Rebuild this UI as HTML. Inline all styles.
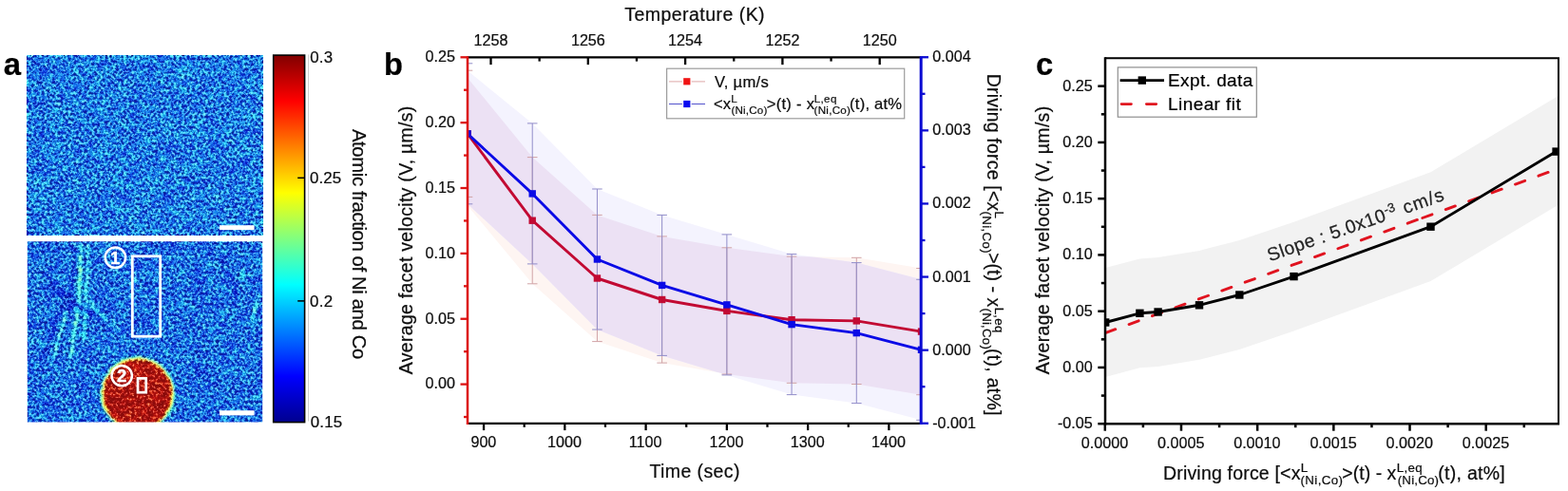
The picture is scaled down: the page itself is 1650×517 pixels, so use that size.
<!DOCTYPE html>
<html lang="en"><head><meta charset="utf-8"><title>Facet velocity and driving force</title>
<style>
html,body{margin:0;padding:0;background:#fff;}
body{width:1650px;height:517px;overflow:hidden;}
svg{display:block;}
text{font-family:"Liberation Sans", Arial, Helvetica, sans-serif;fill:#0d0d0d;stroke:#0d0d0d;stroke-width:0.22px;}
</style></head><body>
<svg width="1650" height="517" viewBox="0 0 1650 517">
<defs>
<filter id="jet" x="0" y="0" width="100%" height="100%" filterUnits="objectBoundingBox" color-interpolation-filters="sRGB">
<feTurbulence type="fractalNoise" baseFrequency="0.36" numOctaves="3" seed="7" result="t"/>
<feColorMatrix in="t" type="matrix" values="1 0 0 0 0  1 0 0 0 0  1 0 0 0 0  0 0 0 0 1" result="n"/>
<feTurbulence type="fractalNoise" baseFrequency="0.06" numOctaves="2" seed="11" result="t2"/>
<feColorMatrix in="t2" type="matrix" values="1 0 0 0 0  1 0 0 0 0  1 0 0 0 0  0 0 0 0 1" result="n2"/>
<feColorMatrix in="SourceGraphic" type="matrix" values="0.917 0 0 0 0.1371  0.917 0 0 0 0.1371  0.917 0 0 0 0.1371  0 0 0 0 1" result="sv"/>
<feComposite in="sv" in2="n2" operator="arithmetic" k1="0" k2="1" k3="0.1" k4="-0.05" result="s2"/>
<feComposite in="s2" in2="n" operator="arithmetic" k1="0" k2="1" k3="0.78" k4="-0.39" result="v"/>
<feComponentTransfer in="v" result="c">
<feFuncR type="table" tableValues="0 0 0 0 .5 1 1 1 .5"/>
<feFuncG type="table" tableValues="0 0 .5 1 1 1 .5 0 0"/>
<feFuncB type="table" tableValues=".5 1 1 1 .5 0 0 0 0"/>
<feFuncA type="linear" slope="0" intercept="1"/>
</feComponentTransfer>
<feGaussianBlur in="c" stdDeviation="0.55" result="c1"/>
<feGaussianBlur in="c" stdDeviation="1.7" result="cb"/>
<feColorMatrix in="c1" type="matrix" values=".3 .59 .11 0 0  .3 .59 .11 0 0  .3 .59 .11 0 0  0 0 0 0 1" result="l1"/>
<feColorMatrix in="cb" type="matrix" values=".3 .59 .11 0 0  .3 .59 .11 0 0  .3 .59 .11 0 0  0 0 0 0 1" result="lb"/>
<feComposite in="l1" in2="lb" operator="arithmetic" k1="0" k2="1" k3="-1" k4="0.5" result="d"/>
<feComposite in="cb" in2="d" operator="arithmetic" k1="0" k2="1" k3="1" k4="-0.5" result="o"/>
<feColorMatrix in="o" type="matrix" values="0.902 0.083 0.015 0 0.02  0.042 0.943 0.015 0 0.02  0.042 0.083 0.875 0 0.02  0 0 0 0 1"/>
</filter>
<filter id="soft" x="-20%" y="-20%" width="140%" height="140%" color-interpolation-filters="sRGB"><feGaussianBlur stdDeviation="1.25"/></filter>
<filter id="soft2" x="-20%" y="-20%" width="140%" height="140%" color-interpolation-filters="sRGB"><feGaussianBlur stdDeviation="0.8"/></filter>
<linearGradient id="cbar" x1="0" y1="1" x2="0" y2="0">
<stop offset="0" stop-color="#00008f"/>
<stop offset="0.125" stop-color="#0000ff"/>
<stop offset="0.25" stop-color="#0080ff"/>
<stop offset="0.375" stop-color="#00ffff"/>
<stop offset="0.5" stop-color="#80ff80"/>
<stop offset="0.625" stop-color="#ffff00"/>
<stop offset="0.75" stop-color="#ff8000"/>
<stop offset="0.875" stop-color="#ff0000"/>
<stop offset="1" stop-color="#800000"/>
</linearGradient>
<clipPath id="clipA2"><rect x="28.8" y="254.3" width="247.4" height="190.3"/></clipPath>
<clipPath id="clipB"><rect x="492" y="60.3" width="477.5" height="385.5"/></clipPath>
<clipPath id="clipC"><rect x="1162.8" y="61.2" width="477.2" height="385"/></clipPath>
</defs>
<rect x="0" y="0" width="1650" height="517" fill="#fff"/>
<g id="panel-a">
<text x="3.66" y="79.1" style="font-size:32.8px;font-weight:bold;fill:#000;stroke:#000">a</text>
<g filter="url(#jet)"><rect x="28.8" y="58.3" width="247.4" height="189.7" fill="rgb(29,119,255)"/></g>
<g clip-path="url(#clipA2)"><g filter="url(#jet)">
<rect x="28.8" y="254.3" width="247.4" height="190.3" fill="rgb(25,110,255)"/>
<g filter="url(#soft2)" fill="none" stroke-linecap="round">
<path d="M85.3 257 L84.4 285 L83 312 L80 340 L74.5 377" stroke="rgb(112,255,160)" stroke-width="2.1"/>
<path d="M84.6 282 L84 302" stroke="rgb(170,255,90)" stroke-width="1.6"/>
<path d="M92.9 257 L91.6 290 L89.3 335 L88 360" stroke="rgb(96,255,190)" stroke-width="2"/>
<path d="M79.3 262 L76.8 300 L70.5 326" stroke="rgb(0,0,200)" stroke-width="2.6"/>
<path d="M70.3 328 L62.7 353 L56 378" stroke="rgb(92,255,200)" stroke-width="2"/>
<path d="M40 284 L57.7 302 L75.3 317.4 L100.4 332.5 L118 340" stroke="rgb(0,0,200)" stroke-width="3"/>
<path d="M67.7 315 L55.2 347.5 L46 374" stroke="rgb(0,0,210)" stroke-width="2.6"/>
<path d="M96 322 L110 336 L124 347" stroke="rgb(80,255,220)" stroke-width="1.8"/>
<path d="M258 282 L243 317.4 L235.4 333" stroke="rgb(92,255,200)" stroke-width="1.8"/>
<path d="M251 296 L241 326" stroke="rgb(0,0,210)" stroke-width="2.4"/>
<path d="M270.6 312 L265.6 340" stroke="rgb(92,255,200)" stroke-width="1.8"/>
</g>
<g filter="url(#soft)" transform="translate(-0.9 0.6)"><path d="M145.6 374.6 L160 377.5 L174 387 L182.6 400 L185 414 L182 429 L174 441 L163 449 L128 449 L117 441 L109 429 L106.6 414 L109 400 L117.5 387 L131 377.5 Z" fill="rgb(125,255,37)"/><path d="M145.6 377.8 L159 380.5 L172 389.5 L179.6 401.5 L181.8 414 L179 428 L172 439 L162 447 L129 447 L119 439 L112 428 L109.6 414 L112 401.5 L119.5 389.5 L132 380.5 Z" fill="rgb(224,24,0)"/></g>
</g></g>
<rect x="231" y="237.2" width="36.6" height="4.9" fill="#fff"/>
<rect x="231" y="432.2" width="36.6" height="5.2" fill="#fff"/>
<rect x="139.3" y="269.8" width="29.4" height="84.4" fill="none" stroke="#fff" stroke-width="2.8"/>
<rect x="145.0" y="398.4" width="8.7" height="14.8" fill="none" stroke="#fff" stroke-width="2.7"/>
<circle cx="121.4" cy="271.3" r="10.7" fill="none" stroke="#fff" stroke-width="2.5"/>
<text x="121.2" y="277.8" text-anchor="middle" style="font-size:18.5px;font-weight:bold;fill:#fff;stroke:#fff;stroke-width:0.4px">1</text>
<circle cx="128.2" cy="395.6" r="10.7" fill="none" stroke="#fff" stroke-width="2.5"/>
<text x="128.2" y="402.1" text-anchor="middle" style="font-size:18.5px;font-weight:bold;fill:#fff;stroke:#fff;stroke-width:0.4px">2</text>
<rect x="287.7" y="58.1" width="32.9" height="386.5" fill="url(#cbar)" stroke="#000" stroke-width="1.6"/>
<line x1="324.5" y1="57.5" x2="324.5" y2="443.5" stroke="#c9c9c9" stroke-width="0.9"/>
<line x1="313.2" y1="187.3" x2="321" y2="187.3" stroke="#000" stroke-width="1.5"/>
<line x1="313.2" y1="316.9" x2="321" y2="316.9" stroke="#000" stroke-width="1.5"/>
<text x="326.18" y="65.9" style="font-size:16.9px;letter-spacing:0.22px">0.3</text>
<text x="326.07" y="192.7" style="font-size:16.9px;letter-spacing:0.03px">0.25</text>
<text x="326.07" y="322.6" style="font-size:16.9px;letter-spacing:0.3px">0.2</text>
<text x="326.68" y="449.7" style="font-size:16.9px;letter-spacing:0.23px">0.15</text>
<g transform="translate(371 0) rotate(90)"><text x="135.94" y="0" style="font-size:20.3px;letter-spacing:-0.38px">Atomic fraction of Ni and Co</text></g>
</g>
<g id="panel-b">
<text x="403.88" y="79.3" style="font-size:32.6px;font-weight:bold;fill:#000;stroke:#000">b</text>
<g clip-path="url(#clipB)">
<clipPath id="redband"><polygon points="492,82 560.21,165.6 628.43,226.4 696.64,248.9 764.86,260.8 833.07,270.1 901.29,271.3 969.5,282.5 969.5,415.7 901.29,404.5 833.07,403.3 764.86,394 696.64,382.1 628.43,359.6 560.21,298.8 492,216.5"/></clipPath>
<polygon points="492,82 560.21,165.6 628.43,226.4 696.64,248.9 764.86,260.8 833.07,270.1 901.29,271.3 969.5,282.5 969.5,415.7 901.29,404.5 833.07,403.3 764.86,394 696.64,382.1 628.43,359.6 560.21,298.8 492,216.5" fill="#fef5f2"/>
<polygon points="492,74.4 560.21,129.9 628.43,199 696.64,226.4 764.86,246.9 833.07,267.6 901.29,276.6 969.5,294.3 969.5,442.3 901.29,424.6 833.07,415.6 764.86,394.9 696.64,374.4 628.43,347 560.21,277.9 492,214.8" fill="#f4f3fe"/>
<g clip-path="url(#redband)"><polygon points="492,74.4 560.21,129.9 628.43,199 696.64,226.4 764.86,246.9 833.07,267.6 901.29,276.6 969.5,294.3 969.5,442.3 901.29,424.6 833.07,415.6 764.86,394.9 696.64,374.4 628.43,347 560.21,277.9 492,214.8" fill="#ece1f4"/></g>
<path d="M492 74.2 V207.4 M486.7 74.2 H497.3 M486.7 207.4 H497.3" fill="none" stroke="#d1a3a6" stroke-width="1"/>
<path d="M492 66.8 V214.8 M486.7 66.8 H497.3 M486.7 214.8 H497.3" fill="none" stroke="#918dc9" stroke-width="1"/>
<path d="M560.21 165.6 V298.8 M554.91 165.6 H565.51 M554.91 298.8 H565.51" fill="none" stroke="#d1a3a6" stroke-width="1"/>
<path d="M560.21 129.9 V277.9 M554.91 129.9 H565.51 M554.91 277.9 H565.51" fill="none" stroke="#918dc9" stroke-width="1"/>
<path d="M628.43 226.4 V359.6 M623.13 226.4 H633.73 M623.13 359.6 H633.73" fill="none" stroke="#d1a3a6" stroke-width="1"/>
<path d="M628.43 199 V347 M623.13 199 H633.73 M623.13 347 H633.73" fill="none" stroke="#918dc9" stroke-width="1"/>
<path d="M696.64 248.9 V382.1 M691.34 248.9 H701.94 M691.34 382.1 H701.94" fill="none" stroke="#d1a3a6" stroke-width="1"/>
<path d="M696.64 226.4 V374.4 M691.34 226.4 H701.94 M691.34 374.4 H701.94" fill="none" stroke="#918dc9" stroke-width="1"/>
<path d="M764.86 260.8 V394 M759.56 260.8 H770.16 M759.56 394 H770.16" fill="none" stroke="#d1a3a6" stroke-width="1"/>
<path d="M764.86 246.9 V394.9 M759.56 246.9 H770.16 M759.56 394.9 H770.16" fill="none" stroke="#918dc9" stroke-width="1"/>
<path d="M833.07 270.1 V403.3 M827.77 270.1 H838.37 M827.77 403.3 H838.37" fill="none" stroke="#d1a3a6" stroke-width="1"/>
<path d="M833.07 267.6 V415.6 M827.77 267.6 H838.37 M827.77 415.6 H838.37" fill="none" stroke="#918dc9" stroke-width="1"/>
<path d="M901.29 271.3 V404.5 M895.99 271.3 H906.59 M895.99 404.5 H906.59" fill="none" stroke="#d1a3a6" stroke-width="1"/>
<path d="M901.29 276.6 V424.6 M895.99 276.6 H906.59 M895.99 424.6 H906.59" fill="none" stroke="#918dc9" stroke-width="1"/>
<path d="M969.5 282.5 V415.7 M964.2 282.5 H974.8 M964.2 415.7 H974.8" fill="none" stroke="#d1a3a6" stroke-width="1"/>
<path d="M969.5 294.3 V442.3 M964.2 294.3 H974.8 M964.2 442.3 H974.8" fill="none" stroke="#918dc9" stroke-width="1"/>
<polyline points="492,140.8 560.21,232.2 628.43,293 696.64,315.5 764.86,327.4 833.07,336.7 901.29,337.9 969.5,349.1" fill="none" stroke="#c20a33" stroke-width="2.9" stroke-linejoin="round"/>
<polyline points="492,140.8 560.21,203.9 628.43,273 696.64,300.4 764.86,320.9 833.07,341.6 901.29,350.6 969.5,368.3" fill="none" stroke="#0a0ae6" stroke-width="2.9" stroke-linejoin="round"/>
<rect x="488.3" y="137.1" width="7.4" height="7.4" fill="#c20a33"/>
<rect x="556.51" y="228.5" width="7.4" height="7.4" fill="#c20a33"/>
<rect x="624.73" y="289.3" width="7.4" height="7.4" fill="#c20a33"/>
<rect x="692.94" y="311.8" width="7.4" height="7.4" fill="#c20a33"/>
<rect x="761.16" y="323.7" width="7.4" height="7.4" fill="#c20a33"/>
<rect x="829.37" y="333" width="7.4" height="7.4" fill="#c20a33"/>
<rect x="897.59" y="334.2" width="7.4" height="7.4" fill="#c20a33"/>
<rect x="965.8" y="345.4" width="7.4" height="7.4" fill="#c20a33"/>
<rect x="488.3" y="137.1" width="7.4" height="7.4" fill="#0a0ae6"/>
<rect x="556.51" y="200.2" width="7.4" height="7.4" fill="#0a0ae6"/>
<rect x="624.73" y="269.3" width="7.4" height="7.4" fill="#0a0ae6"/>
<rect x="692.94" y="296.7" width="7.4" height="7.4" fill="#0a0ae6"/>
<rect x="761.16" y="317.2" width="7.4" height="7.4" fill="#0a0ae6"/>
<rect x="829.37" y="337.9" width="7.4" height="7.4" fill="#0a0ae6"/>
<rect x="897.59" y="346.9" width="7.4" height="7.4" fill="#0a0ae6"/>
<rect x="965.8" y="364.6" width="7.4" height="7.4" fill="#0a0ae6"/>
</g>
<g stroke="#000" stroke-width="2.3" fill="none">
<line x1="492" y1="445.8" x2="969.5" y2="445.8"/>
<line x1="492" y1="60.3" x2="969.5" y2="60.3"/>
<line x1="509.05" y1="445.8" x2="509.05" y2="453.1"/>
<line x1="551.69" y1="445.8" x2="551.69" y2="449.8"/>
<line x1="594.32" y1="445.8" x2="594.32" y2="453.1"/>
<line x1="636.96" y1="445.8" x2="636.96" y2="449.8"/>
<line x1="679.59" y1="445.8" x2="679.59" y2="453.1"/>
<line x1="722.22" y1="445.8" x2="722.22" y2="449.8"/>
<line x1="764.86" y1="445.8" x2="764.86" y2="453.1"/>
<line x1="807.49" y1="445.8" x2="807.49" y2="449.8"/>
<line x1="850.12" y1="445.8" x2="850.12" y2="453.1"/>
<line x1="892.76" y1="445.8" x2="892.76" y2="449.8"/>
<line x1="935.39" y1="445.8" x2="935.39" y2="453.1"/>
<line x1="516.5" y1="60.3" x2="516.5" y2="68.1"/>
<line x1="567.65" y1="60.3" x2="567.65" y2="64.6"/>
<line x1="618.8" y1="60.3" x2="618.8" y2="68.1"/>
<line x1="669.95" y1="60.3" x2="669.95" y2="64.6"/>
<line x1="721.1" y1="60.3" x2="721.1" y2="68.1"/>
<line x1="772.25" y1="60.3" x2="772.25" y2="64.6"/>
<line x1="823.4" y1="60.3" x2="823.4" y2="68.1"/>
<line x1="874.55" y1="60.3" x2="874.55" y2="64.6"/>
<line x1="925.7" y1="60.3" x2="925.7" y2="68.1"/>
</g>
<g stroke="#dc1212" stroke-width="2.3" fill="none">
<line x1="492" y1="59.15" x2="492" y2="446.95" stroke-width="2.5"/>
<line x1="488" y1="439.03" x2="492" y2="439.03"/>
<line x1="484.5" y1="404.6" x2="492" y2="404.6"/>
<line x1="488" y1="370.17" x2="492" y2="370.17"/>
<line x1="484.5" y1="335.74" x2="492" y2="335.74"/>
<line x1="488" y1="301.31" x2="492" y2="301.31"/>
<line x1="484.5" y1="266.88" x2="492" y2="266.88"/>
<line x1="488" y1="232.45" x2="492" y2="232.45"/>
<line x1="484.5" y1="198.02" x2="492" y2="198.02"/>
<line x1="488" y1="163.59" x2="492" y2="163.59"/>
<line x1="484.5" y1="129.16" x2="492" y2="129.16"/>
<line x1="488" y1="94.73" x2="492" y2="94.73"/>
<line x1="484.5" y1="60.3" x2="492" y2="60.3"/>
</g>
<g stroke="#0a0ad2" stroke-width="2.3" fill="none">
<line x1="969.2" y1="59.15" x2="969.2" y2="446.95" stroke-width="3"/>
<line x1="969.5" y1="445.75" x2="977" y2="445.75"/>
<line x1="969.5" y1="407.2" x2="973.5" y2="407.2"/>
<line x1="969.5" y1="368.65" x2="977" y2="368.65"/>
<line x1="969.5" y1="330.1" x2="973.5" y2="330.1"/>
<line x1="969.5" y1="291.55" x2="977" y2="291.55"/>
<line x1="969.5" y1="253" x2="973.5" y2="253"/>
<line x1="969.5" y1="214.45" x2="977" y2="214.45"/>
<line x1="969.5" y1="175.9" x2="973.5" y2="175.9"/>
<line x1="969.5" y1="137.35" x2="977" y2="137.35"/>
<line x1="969.5" y1="98.8" x2="973.5" y2="98.8"/>
<line x1="969.5" y1="60.25" x2="977" y2="60.25"/>
</g>
<text x="447.49" y="409.4" style="font-size:16.15px">0.00</text>
<text x="447.55" y="340.54" style="font-size:16.15px">0.05</text>
<text x="447.49" y="271.68" style="font-size:16.15px">0.10</text>
<text x="447.55" y="202.82" style="font-size:16.15px">0.15</text>
<text x="447.49" y="133.96" style="font-size:16.15px">0.20</text>
<text x="447.55" y="65.1" style="font-size:16.15px">0.25</text>
<text x="981.21" y="450.75" style="font-size:16.15px">-0.001</text>
<text x="981.27" y="373.65" style="font-size:16.15px">0.000</text>
<text x="981.27" y="296.55" style="font-size:16.15px">0.001</text>
<text x="981.27" y="219.45" style="font-size:16.15px">0.002</text>
<text x="981.27" y="142.35" style="font-size:16.15px">0.003</text>
<text x="981.27" y="65.25" style="font-size:16.15px">0.004</text>
<text x="495.42" y="471" style="font-size:16.15px">900</text>
<text x="575.97" y="471" style="font-size:16.15px">1000</text>
<text x="661.83" y="471" style="font-size:16.15px">1100</text>
<text x="746.51" y="471" style="font-size:16.15px">1200</text>
<text x="831.77" y="471" style="font-size:16.15px">1300</text>
<text x="917.04" y="471" style="font-size:16.15px">1400</text>
<text x="498.61" y="47.6" style="font-size:16.15px">1258</text>
<text x="600.91" y="47.6" style="font-size:16.15px">1256</text>
<text x="703.09" y="47.6" style="font-size:16.15px">1254</text>
<text x="805.54" y="47.6" style="font-size:16.15px">1252</text>
<text x="907.75" y="47.6" style="font-size:16.15px">1250</text>
<text x="657.16" y="21.7" style="font-size:19.5px;letter-spacing:0.47px">Temperature (K)</text>
<text x="683.46" y="502.8" style="font-size:19.5px;letter-spacing:0.41px">Time (sec)</text>
<g transform="translate(433.8 0) rotate(-90)"><text x="-394.16" y="0" style="font-size:19.5px;letter-spacing:0.29px">Average facet velocity (V, µm/s)</text></g>
<g transform="translate(1039.3 79.3) rotate(90)"><text x="-1.56" y="0" style="font-size:19.5px;letter-spacing:0.19px">Driving force [&lt;x</text><text x="143.24" y="-8" style="font-size:13.3px">L</text><text x="143.09" y="5.7" style="font-size:13.3px;letter-spacing:0.36px">(Ni,Co)</text><text x="186.86" y="0" style="font-size:19.5px;letter-spacing:0.02px">&gt;(t) - x</text><text x="244.34" y="-8" style="font-size:13.3px;letter-spacing:0.3px">L,eq</text><text x="245.19" y="5.7" style="font-size:13.3px;letter-spacing:0.21px">(Ni,Co)</text><text x="287.81" y="0" style="font-size:19.5px;letter-spacing:0.27px">(t), at%]</text></g>
<rect x="701.6" y="72.2" width="250.1" height="52.6" fill="#fff" stroke="#9c9c9c" stroke-width="1.2"/>
<line x1="704" y1="85.8" x2="742" y2="85.8" stroke="#e4b9b9" stroke-width="1.2"/>
<rect x="717.9" y="81.2" width="9.8" height="9.2" fill="#fff"/>
<rect x="719.2" y="82.2" width="7.2" height="7.2" fill="#f01414"/>
<line x1="704" y1="109.5" x2="742" y2="109.5" stroke="#5252cc" stroke-width="1.2"/>
<rect x="717.9" y="104.9" width="9.8" height="9.2" fill="#fff"/>
<rect x="719.2" y="105.9" width="7.2" height="7.2" fill="#0a0af0"/>
<text x="751.94" y="91.9" style="font-size:16.6px;letter-spacing:0.3px">V, µm/s</text>
<g transform="translate(0 0)"><text x="751.09" y="115" style="font-size:16.6px">&lt;x</text><text x="769.16" y="107.6" style="font-size:11.6px">L</text><text x="769.41" y="119.8" style="font-size:11.6px;letter-spacing:0.21px">(Ni,Co)</text><text x="806.69" y="115" style="font-size:16.6px;letter-spacing:0.27px">&gt;(t) - x</text><text x="856.66" y="107.6" style="font-size:11.6px;letter-spacing:0.37px">L,eq</text><text x="856.61" y="119.8" style="font-size:11.6px;letter-spacing:0.26px">(Ni,Co)</text><text x="894.1" y="115" style="font-size:16.6px;letter-spacing:0.21px">(t), at%</text></g>
</g>
<g id="panel-c">
<text x="1090.05" y="79.3" style="font-size:32.8px;font-weight:bold;fill:#000;stroke:#000">c</text>
<g clip-path="url(#clipC)">
<polygon points="1163.2,282.1 1199.4,272.4 1218.6,271.1 1262,263.9 1304.3,253.1 1361.5,233.7 1505.5,181.3 1637.6,102.2 1640,100.76 1640,215.56 1637.6,217 1505.5,296.1 1361.5,348.5 1304.3,367.9 1262,378.7 1218.6,385.9 1199.4,387.2 1163.2,396.9" fill="#f2f2f2"/>
<line x1="1163.6" y1="350.41" x2="1492" y2="231.23" stroke="#e0131f" stroke-width="2.9" stroke-dasharray="10.8 15.19" stroke-linecap="round"/>
<line x1="1496.8" y1="229.49" x2="1630" y2="181.15" stroke="#e0131f" stroke-width="2.9" stroke-dasharray="10.8 15.19" stroke-linecap="round"/>
<polyline points="1163.2,339.5 1199.4,329.8 1218.6,328.5 1262,321.3 1304.3,310.5 1361.5,291.1 1505.5,238.7 1637.6,159.6" fill="none" stroke="#000" stroke-width="2.9" stroke-linejoin="round"/>
<rect x="1159" y="335.3" width="8.4" height="8.4" fill="#000"/>
<rect x="1195.2" y="325.6" width="8.4" height="8.4" fill="#000"/>
<rect x="1214.4" y="324.3" width="8.4" height="8.4" fill="#000"/>
<rect x="1257.8" y="317.1" width="8.4" height="8.4" fill="#000"/>
<rect x="1300.1" y="306.3" width="8.4" height="8.4" fill="#000"/>
<rect x="1357.3" y="286.9" width="8.4" height="8.4" fill="#000"/>
<rect x="1501.3" y="234.5" width="8.4" height="8.4" fill="#000"/>
<rect x="1633.4" y="155.4" width="8.4" height="8.4" fill="#000"/>
</g>
<g stroke="#000" fill="none">
<line x1="1163" y1="60.2" x2="1163" y2="447.5" stroke-width="2.5"/>
<line x1="1162.8" y1="446.2" x2="1641" y2="446.2" stroke-width="2.5"/>
<line x1="1162.8" y1="61.2" x2="1641" y2="61.2" stroke-width="2"/>
<line x1="1640" y1="61.2" x2="1640" y2="446.2" stroke-width="2"/>
<line x1="1155.3" y1="446.2" x2="1162.8" y2="446.2" stroke-width="2.5"/>
<line x1="1158.8" y1="416.57" x2="1162.8" y2="416.57" stroke-width="2.5"/>
<line x1="1155.3" y1="386.94" x2="1162.8" y2="386.94" stroke-width="2.5"/>
<line x1="1158.8" y1="357.32" x2="1162.8" y2="357.32" stroke-width="2.5"/>
<line x1="1155.3" y1="327.69" x2="1162.8" y2="327.69" stroke-width="2.5"/>
<line x1="1158.8" y1="298.06" x2="1162.8" y2="298.06" stroke-width="2.5"/>
<line x1="1155.3" y1="268.43" x2="1162.8" y2="268.43" stroke-width="2.5"/>
<line x1="1158.8" y1="238.81" x2="1162.8" y2="238.81" stroke-width="2.5"/>
<line x1="1155.3" y1="209.18" x2="1162.8" y2="209.18" stroke-width="2.5"/>
<line x1="1158.8" y1="179.55" x2="1162.8" y2="179.55" stroke-width="2.5"/>
<line x1="1155.3" y1="149.93" x2="1162.8" y2="149.93" stroke-width="2.5"/>
<line x1="1158.8" y1="120.3" x2="1162.8" y2="120.3" stroke-width="2.5"/>
<line x1="1155.3" y1="90.67" x2="1162.8" y2="90.67" stroke-width="2.5"/>
<line x1="1162.8" y1="446.2" x2="1162.8" y2="453.7" stroke-width="2.5"/>
<line x1="1202.89" y1="446.2" x2="1202.89" y2="450.2" stroke-width="2.5"/>
<line x1="1242.98" y1="446.2" x2="1242.98" y2="453.7" stroke-width="2.5"/>
<line x1="1283.07" y1="446.2" x2="1283.07" y2="450.2" stroke-width="2.5"/>
<line x1="1323.16" y1="446.2" x2="1323.16" y2="453.7" stroke-width="2.5"/>
<line x1="1363.25" y1="446.2" x2="1363.25" y2="450.2" stroke-width="2.5"/>
<line x1="1403.34" y1="446.2" x2="1403.34" y2="453.7" stroke-width="2.5"/>
<line x1="1443.43" y1="446.2" x2="1443.43" y2="450.2" stroke-width="2.5"/>
<line x1="1483.52" y1="446.2" x2="1483.52" y2="453.7" stroke-width="2.5"/>
<line x1="1523.61" y1="446.2" x2="1523.61" y2="450.2" stroke-width="2.5"/>
<line x1="1563.7" y1="446.2" x2="1563.7" y2="453.7" stroke-width="2.5"/>
<line x1="1603.79" y1="446.2" x2="1603.79" y2="450.2" stroke-width="2.5"/>
</g>
<text x="1112.88" y="451.1" style="font-size:16.15px">-0.05</text>
<text x="1118.19" y="391.84" style="font-size:16.15px">0.00</text>
<text x="1118.25" y="332.59" style="font-size:16.15px">0.05</text>
<text x="1118.19" y="273.33" style="font-size:16.15px">0.10</text>
<text x="1118.25" y="214.08" style="font-size:16.15px">0.15</text>
<text x="1118.19" y="154.83" style="font-size:16.15px">0.20</text>
<text x="1118.25" y="95.57" style="font-size:16.15px">0.25</text>
<text x="1137.81" y="471.5" style="font-size:16.15px">0.0000</text>
<text x="1218.02" y="471.5" style="font-size:16.15px">0.0005</text>
<text x="1298.17" y="471.5" style="font-size:16.15px">0.0010</text>
<text x="1378.38" y="471.5" style="font-size:16.15px">0.0015</text>
<text x="1458.53" y="471.5" style="font-size:16.15px">0.0020</text>
<text x="1538.74" y="471.5" style="font-size:16.15px">0.0025</text>
<g transform="translate(1103.8 0) rotate(-90)"><text x="-394.36" y="0" style="font-size:19.5px;letter-spacing:0.29px">Average facet velocity (V, µm/s)</text></g>
<g transform="translate(0 0)"><text x="1223.94" y="504.5" style="font-size:19.5px;letter-spacing:0.19px">Driving force [&lt;x</text><text x="1368.74" y="496.5" style="font-size:13.3px">L</text><text x="1368.59" y="510.2" style="font-size:13.3px;letter-spacing:0.36px">(Ni,Co)</text><text x="1412.36" y="504.5" style="font-size:19.5px;letter-spacing:0.02px">&gt;(t) - x</text><text x="1469.84" y="496.5" style="font-size:13.3px;letter-spacing:0.3px">L,eq</text><text x="1470.69" y="510.2" style="font-size:13.3px;letter-spacing:0.21px">(Ni,Co)</text><text x="1513.31" y="504.5" style="font-size:19.5px;letter-spacing:0.27px">(t), at%]</text></g>
<rect x="1176.3" y="70.9" width="146" height="52.3" fill="#fff" stroke="#8e8e8e" stroke-width="1.2"/>
<line x1="1178.6" y1="84.6" x2="1225" y2="84.6" stroke="#000" stroke-width="2.9"/>
<rect x="1197.6" y="80.4" width="8.4" height="8.4" fill="#000"/>
<line x1="1180.1" y1="109.6" x2="1218" y2="109.6" stroke="#e0131f" stroke-width="2.9" stroke-dasharray="10.3 16" stroke-linecap="round"/>
<text x="1229.04" y="91.2" style="font-size:19px;letter-spacing:0.42px;fill:#000;stroke:#000">Expt. data</text>
<text x="1229.04" y="115.8" style="font-size:19px;letter-spacing:0.42px;fill:#000;stroke:#000">Linear fit</text>
<g transform="translate(1336.6 275.3) rotate(-19.4)">
<text x="-0.38" y="0" style="font-size:19.5px;letter-spacing:0.45px;fill:#242424;stroke:#242424">Slope : 5.0x10</text>
<text x="130.74" y="-6.6" style="font-size:13.4px;fill:#242424;stroke:#242424">-3</text>
<text x="150.69" y="0" style="font-size:19.5px;letter-spacing:1.1px;fill:#242424;stroke:#242424">cm/s</text>
</g>
</g>
</svg>
</body></html>
